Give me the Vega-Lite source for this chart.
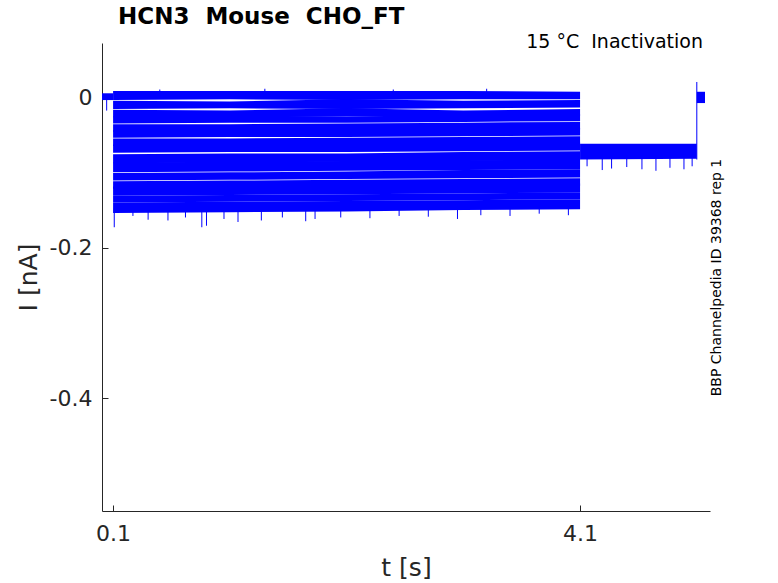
{
  "$schema": "https://vega.github.io/schema/vega-lite/v6.json",
  "width": 608,
  "height": 468,
  "autosize": "none",
  "padding": {"left": 102, "top": 43, "right": 68, "bottom": 72},
  "title": {
    "text": "HCN3\u00a0\u00a0Mouse\u00a0\u00a0CHO_FT",
    "anchor": "start",
    "frame": "group",
    "dx": 16,
    "offset": 4,
    "font": "DejaVu Sans",
    "fontSize": 23,
    "fontWeight": "bold",
    "color": "#000000"
  },
  "datasets": {
    "traces": [
      {"k": 1, "t": 0.1, "lo": -0.004, "hi": 0.008},
      {"k": 1, "t": 1.1, "lo": -0.003, "hi": 0.008},
      {"k": 1, "t": 2.1, "lo": -0.004, "hi": 0.008},
      {"k": 1, "t": 3.1, "lo": -0.003, "hi": 0.008},
      {"k": 1, "t": 4.1, "lo": -0.003, "hi": 0.007},
      {"k": 2, "t": 0.1, "lo": -0.016, "hi": -0.005},
      {"k": 2, "t": 1.1, "lo": -0.015, "hi": -0.006},
      {"k": 2, "t": 2.1, "lo": -0.016, "hi": -0.003},
      {"k": 2, "t": 3.1, "lo": -0.015, "hi": -0.005},
      {"k": 2, "t": 4.1, "lo": -0.014, "hi": -0.004},
      {"k": 3, "t": 0.1, "lo": -0.027, "hi": -0.017},
      {"k": 3, "t": 1.1, "lo": -0.027, "hi": -0.018},
      {"k": 3, "t": 2.1, "lo": -0.026, "hi": -0.015},
      {"k": 3, "t": 3.1, "lo": -0.026, "hi": -0.018},
      {"k": 3, "t": 4.1, "lo": -0.025, "hi": -0.016},
      {"k": 4, "t": 0.1, "lo": -0.035, "hi": -0.026},
      {"k": 4, "t": 1.1, "lo": -0.034, "hi": -0.025},
      {"k": 4, "t": 2.1, "lo": -0.034, "hi": -0.026},
      {"k": 4, "t": 3.1, "lo": -0.033, "hi": -0.024},
      {"k": 4, "t": 4.1, "lo": -0.032, "hi": -0.023},
      {"k": 5, "t": 0.1, "lo": -0.046, "hi": -0.036},
      {"k": 5, "t": 1.1, "lo": -0.045, "hi": -0.036},
      {"k": 5, "t": 2.1, "lo": -0.045, "hi": -0.035},
      {"k": 5, "t": 3.1, "lo": -0.044, "hi": -0.034},
      {"k": 5, "t": 4.1, "lo": -0.043, "hi": -0.033},
      {"k": 6, "t": 0.1, "lo": -0.054, "hi": -0.044},
      {"k": 6, "t": 1.1, "lo": -0.053, "hi": -0.043},
      {"k": 6, "t": 2.1, "lo": -0.053, "hi": -0.043},
      {"k": 6, "t": 3.1, "lo": -0.052, "hi": -0.042},
      {"k": 6, "t": 4.1, "lo": -0.051, "hi": -0.041},
      {"k": 7, "t": 0.1, "lo": -0.065, "hi": -0.055},
      {"k": 7, "t": 1.1, "lo": -0.064, "hi": -0.055},
      {"k": 7, "t": 2.1, "lo": -0.064, "hi": -0.054},
      {"k": 7, "t": 3.1, "lo": -0.063, "hi": -0.053},
      {"k": 7, "t": 4.1, "lo": -0.062, "hi": -0.052},
      {"k": 8, "t": 0.1, "lo": -0.074, "hi": -0.063},
      {"k": 8, "t": 1.1, "lo": -0.073, "hi": -0.063},
      {"k": 8, "t": 2.1, "lo": -0.073, "hi": -0.062},
      {"k": 8, "t": 3.1, "lo": -0.072, "hi": -0.061},
      {"k": 8, "t": 4.1, "lo": -0.071, "hi": -0.060},
      {"k": 9, "t": 0.1, "lo": -0.088, "hi": -0.076},
      {"k": 9, "t": 1.1, "lo": -0.087, "hi": -0.075},
      {"k": 9, "t": 2.1, "lo": -0.086, "hi": -0.075},
      {"k": 9, "t": 3.1, "lo": -0.085, "hi": -0.073},
      {"k": 9, "t": 4.1, "lo": -0.084, "hi": -0.072},
      {"k": 10, "t": 0.1, "lo": -0.100, "hi": -0.087},
      {"k": 10, "t": 1.1, "lo": -0.099, "hi": -0.086},
      {"k": 10, "t": 2.1, "lo": -0.098, "hi": -0.085},
      {"k": 10, "t": 3.1, "lo": -0.097, "hi": -0.084},
      {"k": 10, "t": 4.1, "lo": -0.096, "hi": -0.083},
      {"k": 11, "t": 0.1, "lo": -0.111, "hi": -0.101},
      {"k": 11, "t": 1.1, "lo": -0.110, "hi": -0.100},
      {"k": 11, "t": 2.1, "lo": -0.109, "hi": -0.099},
      {"k": 11, "t": 3.1, "lo": -0.108, "hi": -0.097},
      {"k": 11, "t": 4.1, "lo": -0.107, "hi": -0.096},
      {"k": 12, "t": 0.1, "lo": -0.122, "hi": -0.112},
      {"k": 12, "t": 1.1, "lo": -0.121, "hi": -0.111},
      {"k": 12, "t": 2.1, "lo": -0.120, "hi": -0.110},
      {"k": 12, "t": 3.1, "lo": -0.119, "hi": -0.109},
      {"k": 12, "t": 4.1, "lo": -0.118, "hi": -0.108},
      {"k": 13, "t": 0.1, "lo": -0.131, "hi": -0.119},
      {"k": 13, "t": 1.1, "lo": -0.130, "hi": -0.118},
      {"k": 13, "t": 2.1, "lo": -0.129, "hi": -0.117},
      {"k": 13, "t": 3.1, "lo": -0.128, "hi": -0.116},
      {"k": 13, "t": 4.1, "lo": -0.127, "hi": -0.115},
      {"k": 14, "t": 0.1, "lo": -0.140, "hi": -0.131},
      {"k": 14, "t": 1.1, "lo": -0.139, "hi": -0.130},
      {"k": 14, "t": 2.1, "lo": -0.138, "hi": -0.129},
      {"k": 14, "t": 3.1, "lo": -0.137, "hi": -0.128},
      {"k": 14, "t": 4.1, "lo": -0.136, "hi": -0.127},
      {"k": 15, "t": 0.1, "lo": -0.154, "hi": -0.140},
      {"k": 15, "t": 1.1, "lo": -0.153, "hi": -0.139},
      {"k": 15, "t": 2.1, "lo": -0.152, "hi": -0.138},
      {"k": 15, "t": 3.1, "lo": -0.150, "hi": -0.137},
      {"k": 15, "t": 4.1, "lo": -0.149, "hi": -0.136}
    ],
    "holds": [
      {"seg": "pre", "t": 0.005, "lo": -0.004, "hi": 0.005},
      {"seg": "pre", "t": 0.1, "lo": -0.004, "hi": 0.005},
      {"seg": "tail", "t": 4.1, "lo": -0.083, "hi": -0.062},
      {"seg": "tail", "t": 5.1, "lo": -0.082, "hi": -0.062},
      {"seg": "post", "t": 5.1, "lo": -0.008, "hi": 0.007},
      {"seg": "post", "t": 5.17, "lo": -0.008, "hi": 0.007}
    ],
    "spikes": [
      {"t": 0.045, "a": 0.0, "b": -0.018},
      {"t": 0.11, "a": -0.148, "b": -0.173},
      {"t": 0.27, "a": -0.148, "b": -0.158},
      {"t": 0.4, "a": -0.148, "b": -0.163},
      {"t": 0.57, "a": -0.148, "b": -0.164},
      {"t": 0.72, "a": -0.148, "b": -0.16},
      {"t": 0.86, "a": -0.148, "b": -0.173},
      {"t": 0.9, "a": -0.148, "b": -0.171},
      {"t": 1.05, "a": -0.148, "b": -0.162},
      {"t": 1.17, "a": -0.148, "b": -0.166},
      {"t": 1.37, "a": -0.148, "b": -0.164},
      {"t": 1.55, "a": -0.148, "b": -0.16},
      {"t": 1.75, "a": -0.148, "b": -0.165},
      {"t": 1.83, "a": -0.148, "b": -0.162},
      {"t": 2.05, "a": -0.148, "b": -0.16},
      {"t": 2.3, "a": -0.148, "b": -0.161},
      {"t": 2.55, "a": -0.146, "b": -0.158},
      {"t": 2.8, "a": -0.146, "b": -0.159},
      {"t": 3.05, "a": -0.146, "b": -0.162},
      {"t": 3.25, "a": -0.146, "b": -0.157},
      {"t": 3.5, "a": -0.145, "b": -0.158},
      {"t": 3.75, "a": -0.145, "b": -0.155},
      {"t": 4.0, "a": -0.145, "b": -0.157},
      {"t": 0.5, "a": 0.006, "b": 0.01},
      {"t": 1.4, "a": 0.006, "b": 0.011},
      {"t": 2.5, "a": 0.006, "b": 0.01},
      {"t": 3.3, "a": 0.006, "b": 0.011},
      {"t": 4.16, "a": -0.08, "b": -0.092},
      {"t": 4.29, "a": -0.08, "b": -0.097},
      {"t": 4.37, "a": -0.08, "b": -0.095},
      {"t": 4.5, "a": -0.08, "b": -0.093},
      {"t": 4.63, "a": -0.08, "b": -0.096},
      {"t": 4.75, "a": -0.08, "b": -0.098},
      {"t": 4.87, "a": -0.08, "b": -0.094},
      {"t": 4.99, "a": -0.08, "b": -0.096},
      {"t": 5.06, "a": -0.08, "b": -0.092},
      {"t": 5.1, "a": -0.083, "b": 0.02}
    ]
  },
  "resolve": {"axis": {"y": "independent"}},
  "layer": [
    {
      "data": {"name": "traces"},
      "mark": {"type": "area", "color": "#0000ff", "opacity": 1},
      "encoding": {
        "x": {
          "field": "t",
          "type": "quantitative",
          "scale": {"domain": [0.005, 5.213], "nice": false, "zero": false},
          "axis": {"values": [0.1, 4.1], "title": "t [s]", "labelPadding": 18, "titlePadding": 11}
        },
        "y": {
          "field": "lo",
          "type": "quantitative",
          "scale": {"domain": [-0.55, 0.0718], "nice": false, "zero": false},
          "axis": {"values": [0, -0.2, -0.4], "labelExpr": "'' + datum.value", "title": "I [nA]", "labelPadding": 16, "titlePadding": 8}
        },
        "y2": {"field": "hi"},
        "detail": {"field": "k", "type": "nominal"}
      }
    },
    {
      "data": {"name": "holds"},
      "mark": {"type": "area", "color": "#0000ff", "opacity": 1},
      "encoding": {
        "x": {"field": "t", "type": "quantitative"},
        "y": {"field": "lo", "type": "quantitative", "axis": null},
        "y2": {"field": "hi"},
        "detail": {"field": "seg", "type": "nominal"}
      }
    },
    {
      "data": {"name": "spikes"},
      "mark": {"type": "rule", "color": "#0000ff", "strokeWidth": 1},
      "encoding": {
        "x": {"field": "t", "type": "quantitative"},
        "y": {"field": "a", "type": "quantitative", "axis": null},
        "y2": {"field": "b"}
      }
    },
    {
      "data": {"values": [{"label": "15 °C\u00a0\u00a0Inactivation"}]},
      "mark": {"type": "text", "align": "right", "baseline": "alphabetic", "font": "DejaVu Sans", "fontSize": 19, "color": "#000000"},
      "encoding": {
        "text": {"field": "label"},
        "x": {"datum": 5.153, "type": "quantitative"},
        "y": {
          "datum": 0.065,
          "type": "quantitative",
          "axis": {
            "orient": "right",
            "title": "BBP Channelpedia ID 39368 rep 1",
            "titleAngle": 270,
            "titleFontSize": 14,
            "titlePadding": 13,
            "titleColor": "#000000",
            "labels": false,
            "ticks": false,
            "domain": false
          }
        }
      }
    }
  ],
  "config": {
    "view": {"stroke": null},
    "axis": {
      "grid": false,
      "domainColor": "#262626",
      "tickColor": "#262626",
      "labelColor": "#262626",
      "titleColor": "#262626",
      "labelFont": "DejaVu Sans",
      "titleFont": "DejaVu Sans",
      "labelFontSize": 22,
      "titleFontSize": 25,
      "titleFontWeight": "normal",
      "tickSize": -6,
      "tickWidth": 1,
      "domainWidth": 1
    }
  }
}
